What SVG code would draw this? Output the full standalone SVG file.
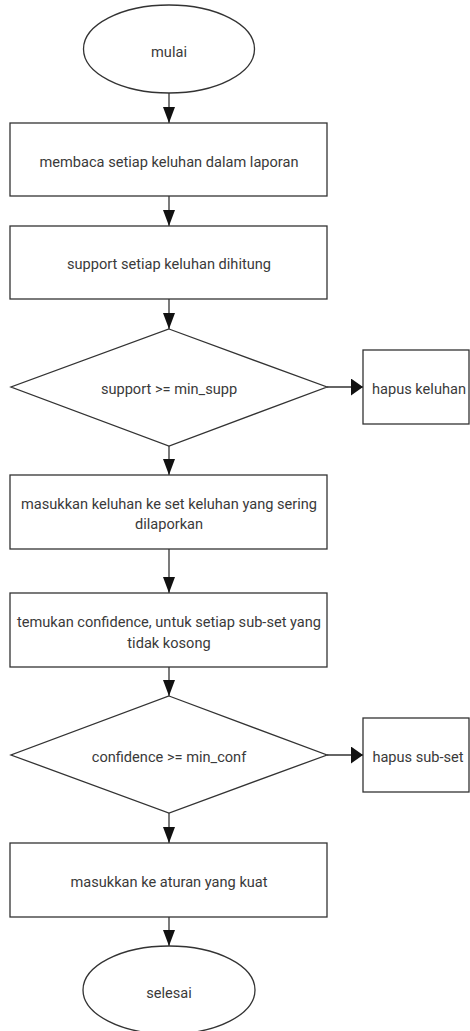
<svg xmlns="http://www.w3.org/2000/svg" width="470" height="1031" viewBox="0 0 470 1031">
<style>
.shape{fill:#ffffff;stroke:#333333;stroke-width:1.3}
.lbl{font-family:Roboto,"Liberation Sans",sans-serif;font-size:14.6px;fill:#3a3a3a;text-anchor:middle}
.conn{fill:none;stroke:#333333;stroke-width:1.3}
.v{marker-end:url(#arrV)}
.h{marker-end:url(#arrH)}
</style>
<defs>
<marker id="arrV" markerUnits="userSpaceOnUse" markerWidth="16" markerHeight="12" refX="16" refY="6" orient="auto">
<path d="M0,0 L16,6 L0,12 Z" fill="#111111"/>
</marker>
<marker id="arrH" markerUnits="userSpaceOnUse" markerWidth="12" markerHeight="17" refX="12" refY="8.5" orient="auto">
<path d="M0,0 L12,8.5 L0,17 Z" fill="#111111"/>
</marker>
</defs>
<rect width="470" height="1031" fill="#ffffff"/>
<g id="connectors">
<line class="conn v" x1="169" y1="93" x2="169" y2="123"/>
<line class="conn v" x1="169" y1="196" x2="169" y2="226"/>
<line class="conn v" x1="169" y1="299" x2="169" y2="329"/>
<line class="conn h" x1="327" y1="387" x2="363" y2="387"/>
<line class="conn v" x1="169" y1="446" x2="169" y2="475"/>
<line class="conn v" x1="169" y1="549" x2="169" y2="593"/>
<line class="conn v" x1="169" y1="667" x2="169" y2="696"/>
<line class="conn h" x1="327" y1="755" x2="363" y2="755"/>
<line class="conn v" x1="169" y1="813" x2="169" y2="843"/>
<line class="conn v" x1="169" y1="917" x2="169" y2="946"/>
</g>
<g id="mulai">
<ellipse class="shape" cx="169" cy="49" rx="85.5" ry="44"/>
<text class="lbl" x="169" y="56.5">mulai</text>
</g>
<g id="membaca">
<rect class="shape" x="10" y="123" width="317" height="73"/>
<text class="lbl" x="169" y="166.5">membaca setiap keluhan dalam laporan</text>
</g>
<g id="support">
<rect class="shape" x="10" y="226" width="317" height="73"/>
<text class="lbl" x="169" y="268.5">support setiap keluhan dihitung</text>
</g>
<g id="cek-support">
<polygon class="shape" points="169,329 327,387 169,446 11,387"/>
<text class="lbl" x="169" y="394">support &gt;= min_supp</text>
</g>
<g id="hapus-keluhan">
<rect class="shape" x="363" y="350" width="106" height="74"/>
<text class="lbl" x="419" y="394">hapus keluhan</text>
</g>
<g id="masukkan-keluhan">
<rect class="shape" x="10" y="475" width="317" height="74"/>
<text class="lbl" x="169" y="509.3">masukkan keluhan ke set keluhan yang sering</text>
<text class="lbl" x="169" y="529.3">dilaporkan</text>
</g>
<g id="temukan">
<rect class="shape" x="10" y="593" width="317" height="74"/>
<text class="lbl" x="169" y="627.3">temukan confidence, untuk setiap sub-set yang</text>
<text class="lbl" x="169" y="647.7">tidak kosong</text>
</g>
<g id="cek-confidence">
<polygon class="shape" points="169,696 327,755 169,813 11,755"/>
<text class="lbl" x="169" y="762">confidence &gt;= min_conf</text>
</g>
<g id="hapus-subset">
<rect class="shape" x="363" y="718" width="106" height="74"/>
<text class="lbl" x="418" y="762">hapus sub-set</text>
</g>
<g id="masukkan-aturan">
<rect class="shape" x="10" y="843" width="317" height="74"/>
<text class="lbl" x="169" y="886.7">masukkan ke aturan yang kuat</text>
</g>
<g id="selesai">
<ellipse class="shape" cx="169" cy="990" rx="86" ry="44"/>
<text class="lbl" x="169" y="998">selesai</text>
</g>
</svg>
